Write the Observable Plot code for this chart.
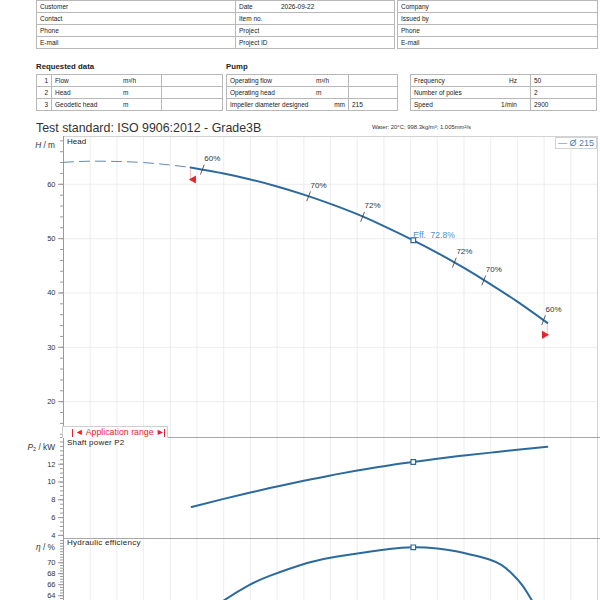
<!DOCTYPE html>
<html>
<head>
<meta charset="utf-8">
<script src="https://cdn.jsdelivr.net/npm/d3@7"></script>
<script src="https://cdn.jsdelivr.net/npm/@observablehq/plot@0.6"></script>
<style>
  html, body { margin:0; padding:0; background:#fff; }
  body { width:600px; height:600px; overflow:hidden; font-family:"Liberation Sans", Arial, sans-serif; color:#222; }
  #page { position:relative; width:600px; height:600px; overflow:hidden; background:#fff; }
  .abs { position:absolute; white-space:nowrap; line-height:1; }
  table.t { position:absolute; border-collapse:collapse; table-layout:fixed; font-size:6.5px; color:#222; }
  table.t td { border:1px solid #b8b8b8; height:11px; padding:0 0 0 3px; position:relative; white-space:nowrap; overflow:hidden; line-height:11px; box-sizing:border-box; }
</style>
</head>
<body>
<div id="page"></div>
<script>
// ---------- table texts ----------
const customerLabels = ["Customer", "Contact", "Phone", "E-mail"];
const projectLabels  = ["Date", "Item no.", "Project", "Project ID"];
const projectValues  = ["2026-09-22", "", "", ""];
const companyLabels  = ["Company", "Issued by", "Phone", "E-mail"];
const requestedNos    = ["1", "2", "3"];
const requestedLabels = ["Flow", "Head", "Geodetic head"];
const requestedUnits  = ["m³/h", "m", "m"];
const pumpLabels = ["Operating flow", "Operating head", "Impeller diameter designed"];
const pumpUnits  = ["m³/h", "m", "mm"];
const pumpValues = ["", "", "215"];
const motorLabels = ["Frequency", "Number of poles", "Speed"];
const motorUnits  = ["Hz", "", "1/min"];
const motorValues = ["50", "2", "2900"];

// ---------- chart data (flow Q in m³/h) ----------
const headDashQ = [0, 5, 10, 15, 20, 23.8];
const headDashH = [64.05, 64.25, 64.2, 64.0, 63.55, 63.1];
const headQ = [23.8, 30, 35, 40, 45, 50, 55, 60, 65.5, 70, 75, 80, 85, 90.6];
const headH = [63.1, 62.0, 60.9, 59.6, 58.1, 56.4, 54.5, 52.3, 49.7, 47.4, 44.6, 41.6, 38.4, 34.5];
const effMarkQ = [26, 45.9, 56, 73.2, 78.7, 89.9];
const effMarkH = [62.7, 57.8, 54.0, 45.6, 42.3, 35.0];
const effMarkLabels = ["60%", "70%", "72%", "72%", "70%", "60%"];
const powerQ = [24, 30, 35, 40, 45, 50, 55, 60, 65.5, 70, 75, 80, 85, 90.6];
const powerP = [7.2, 8.1, 8.82, 9.5, 10.14, 10.74, 11.28, 11.78, 12.25, 12.62, 12.98, 13.3, 13.62, 13.95];
const effQ = [24, 26, 30, 34.5, 38.6, 45.8, 51, 56.6, 61, 65.5, 70, 73.5, 77, 80, 82, 84, 86, 87.5, 89, 90.6];
const effE = [58.3, 60.0, 63.1, 65.8, 67.6, 70.0, 71.1, 71.9, 72.5, 72.8, 72.6, 72.1, 71.3, 70.5, 69.6, 68.0, 65.8, 63.5, 61.3, 58.8];
const bepQ = 65.5, bepH = 49.7, bepP = 12.25, bepEff = 72.8;
const rangeQ = [23.8, 90.6];
const rangeH = [63.1, 34.5];

// ---------- axis ticks ----------
const flowGrid = [0,5,10,15,20,25,30,35,40,45,50,55,60,65,70,75,80,85,90,95,100];
const headTicks = [20, 30, 40, 50, 60];
const headMinor = d3.range(14, 69, 2);
const powerTicks = [4, 6, 8, 10, 12];
const powerMinor = d3.range(4, 15.01, 0.5);
const effTicks = [64, 66, 68, 70];
const effMinor = d3.range(63.5, 74.5, 0.5);

const curveColor = "#2c6a9e";
const red = "#e3262b";
const page = document.getElementById("page");

function el(html, style) {
  const d = document.createElement("div");
  d.className = "abs";
  d.innerHTML = html;
  Object.assign(d.style, style);
  page.appendChild(d);
  return d;
}
function table(left, top, widths, rows) {
  const t = document.createElement("table");
  t.className = "t";
  t.style.left = left + "px"; t.style.top = top + "px"; t.style.width = d3.sum(widths) + "px";
  const cg = document.createElement("colgroup");
  widths.forEach(w => { const c = document.createElement("col"); c.style.width = w + "px"; cg.appendChild(c); });
  t.appendChild(cg);
  rows.forEach(r => {
    const tr = document.createElement("tr");
    r.forEach(c => {
      const td = document.createElement("td");
      if (typeof c === "string") td.innerHTML = c;
      else { td.innerHTML = c.html; Object.assign(td.style, c.style || {}); }
      tr.appendChild(td);
    });
    t.appendChild(tr);
  });
  page.appendChild(t);
  return t;
}

// ---------- header tables ----------
table(36, 0, [199, 159], customerLabels.map((c, i) => [c,
  `${projectLabels[i]}<span style="position:absolute;left:45px">${projectValues[i]}</span>`]));
table(397, 0, [200], companyLabels.map(c => [c]));

el("Requested data", {left:"36px", top:"63px", fontSize:"7.8px", fontWeight:"bold"});
el("Pump", {left:"226px", top:"63px", fontSize:"7.8px", fontWeight:"bold"});

table(36, 74, [15, 110, 61], requestedLabels.map((l, i) => [
  {html: requestedNos[i], style:{textAlign:"right", paddingRight:"3px", paddingLeft:"0"}},
  {html: `${l}<span style="position:absolute;left:71px">${requestedUnits[i]}</span>`, style:{borderLeft:"1.5px solid #333"}},
  ""]));
table(226, 74, [122, 49], pumpLabels.map((l, i) => [
  `${l}<span style="position:absolute;${l.length > 20 ? "right:3px" : "left:89px"}">${pumpUnits[i]}</span>`,
  pumpValues[i]]));
table(410, 74, [120, 66], motorLabels.map((l, i) => [
  `${l}<span style="position:absolute;right:13px">${motorUnits[i]}</span>`,
  motorValues[i]]));

el("Test standard: ISO 9906:2012 - Grade3B", {left:"36px", top:"122px", fontSize:"12.4px", color:"#333"});
el("Water: 20°C; 998.3kg/m³; 1.005mm²/s", {left:"372px", top:"125px", fontSize:"5.9px", color:"#333"});

// ---------- plots ----------
function panel(top, height, yDomain, majors, minors, hgrid, marks) {
  const svg = Plot.plot({
    width: 600, height, marginLeft: 63, marginRight: 3, marginTop: 0, marginBottom: 0,
    style: {background: "transparent", overflow: "visible", fontFamily: "Liberation Sans, Arial, sans-serif", fontSize: "7.5px"},
    x: {domain: [0, 100], axis: null},
    y: {domain: yDomain, axis: null},
    marks: [
      Plot.ruleX(flowGrid, {stroke: "#e9e9e9", strokeWidth: 0.8}),
      hgrid ? Plot.ruleY(hgrid, {stroke: "#e9e9e9", strokeWidth: 0.8}) : null,
      Plot.frame({stroke: "#d2d2d2"}),
      Plot.axisY({ticks: minors, tickSize: 3, tickFormat: () => "", stroke: "#9a9a9a", label: null}),
      Plot.axisY({ticks: majors, tickSize: 5, tickPadding: 3, stroke: "#9a9a9a", fill: "#333", fontSize: 7.5, label: null}),
      Plot.ruleX([0], {stroke: "#9a9a9a"}),
      ...marks
    ]
  });
  svg.style.position = "absolute";
  svg.style.left = "0px";
  svg.style.top = top + "px";
  page.appendChild(svg);
}

const dash = headDashQ.map((q, i) => ({q, h: headDashH[i]}));
const solid = headQ.map((q, i) => ({q, h: headH[i]}));
const effMarks = effMarkQ.map((q, i) => ({q, h: effMarkH[i], label: effMarkLabels[i]}));
const ends = rangeQ.map((q, i) => ({q, h: rangeH[i]}));
const bep = [{q: bepQ, h: bepH, p: bepP, e: bepEff}];

panel(136, 301, [13.4, 68.8], headTicks, headMinor, headTicks, [
  Plot.line(dash, {x: "q", y: "h", stroke: "#5b89b3", strokeWidth: 1, strokeDasharray: "10,6", curve: "natural"}),
  Plot.ruleX(ends, {x: "q", y1: "h", y2: d => d.h - 2.6, stroke: "#f3b3b3", strokeWidth: 0.8}),
  Plot.line(solid, {x: "q", y: "h", stroke: curveColor, strokeWidth: 2, curve: "natural"}),
  Plot.link(effMarks, {x1: d => d.q - 0.35, x2: d => d.q + 0.35, y1: d => d.h - 0.9, y2: d => d.h + 0.9, stroke: "#333", strokeWidth: 0.8}),
  Plot.text(effMarks, {x: "q", y: "h", text: "label", dx: 10, dy: -11, fontSize: 8, fill: "#333"}),
  Plot.dot([ends[0]], {x: "q", y: "h", symbol: "triangle", rotate: -90, r: 3, fill: red, stroke: null, dx: 3, dy: 12}),
  Plot.dot([ends[1]], {x: "q", y: "h", symbol: "triangle", rotate: 90, r: 3, fill: red, stroke: null, dx: -3, dy: 12}),
  Plot.dot(bep, {x: "q", y: "h", symbol: "square", r: 2.6, stroke: curveColor, fill: "white", strokeWidth: 1.2}),
  Plot.text(bep, {x: "q", y: "h", text: d => `Eff.  ${d.e}%`, dy: -5, textAnchor: "start", fill: "#5a8bbd", fontSize: 8.5})
]);

const power = powerQ.map((q, i) => ({q, p: powerP[i]}));
panel(437, 101, [3.65, 15], powerTicks, powerMinor, null, [
  Plot.line(power, {x: "q", y: "p", stroke: curveColor, strokeWidth: 2, curve: "natural"}),
  Plot.dot(bep, {x: "q", y: "p", symbol: "square", r: 2.6, stroke: curveColor, fill: "white", strokeWidth: 1.2})
]);

const eff = effQ.map((q, i) => ({q, e: effE[i]}));
panel(538, 62, [63.13, 74.4], effTicks, effMinor, null, [
  Plot.line(eff, {x: "q", y: "e", stroke: curveColor, strokeWidth: 2, curve: "natural"}),
  Plot.dot(bep, {x: "q", y: "e", symbol: "square", r: 2.6, stroke: curveColor, fill: "white", strokeWidth: 1.2})
]);

// ---------- overlays ----------
el("", {left:"63px", top:"437px", width:"537px", height:"1px", background:"#a8a8a8"});
el("", {left:"63px", top:"538px", width:"537px", height:"1px", background:"#a8a8a8"});

el("Head", {left:"67px", top:"137.5px", fontSize:"8px", color:"#222"});
el("Shaft power P2", {left:"67px", top:"439px", fontSize:"8px", color:"#222", letterSpacing:"0.2px"});
el("Hydraulic efficiency", {left:"67px", top:"539px", fontSize:"8px", color:"#222", letterSpacing:"0.25px"});

el("<i>H</i> / m", {right:"545px", top:"141px", fontSize:"8.3px", color:"#333"});
el("<i>P</i><span style=\"font-size:5.5px;vertical-align:-1px\">2</span> / kW", {right:"545px", top:"443px", fontSize:"8.3px", color:"#333"});
el("<i>η</i> / %", {right:"545px", top:"543px", fontSize:"8.3px", color:"#333"});

el("— Ø 215", {left:"555px", top:"137px", width:"40px", height:"10px", border:"1px solid #d2d2d2", fontSize:"9px", lineHeight:"10px", color:"#4a7fb5", textAlign:"center", background:"#fff"});

el("", {left:"62px", top:"426px", width:"104px", height:"11px", borderTop:"1px solid #cfcfcf", borderLeft:"1px solid #cfcfcf", borderRight:"1px solid #cfcfcf", background:"#fff"});
el("", {left:"72px", top:"429px", width:"1px", height:"8px", background:red});
el("", {left:"164px", top:"429px", width:"1px", height:"8px", background:red});
el("◄ Application range ►", {left:"75px", top:"427.5px", fontSize:"8.8px", color:red});
</script>
</body>
</html>
